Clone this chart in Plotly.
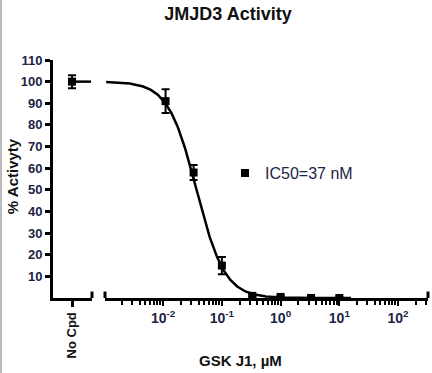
import numpy as np
import plotly.graph_objects as go

# ---- data ----
dose_um = [0.011, 0.033, 0.1, 0.33, 1.0, 3.3, 10.0]
activity = [91, 58, 15, 1, 0.5, 0, 0]
activity_err = [5.5, 3.5, 4, 0.5, 0.5, 0.3, 0.3]
nocpd_label = ["No Cpd"]
nocpd_activity = [100]
nocpd_err = [3]
ic50_um = 0.037
hill = 1.8
top, bottom = 100, 0
y_ticks = [10, 20, 30, 40, 50, 60, 70, 80, 90, 100, 110]
x_tickvals = [0.01, 0.1, 1, 10, 100]
x_ticktext = ["10<sup>-2</sup>", "10<sup>-1</sup>", "10<sup>0</sup>", "10<sup>1</sup>", "10<sup>2</sup>"]
x_minor = [m * 10.0 ** e for e in range(-3, 3) for m in range(2, 10)]

curve_x = np.logspace(-2.97, 1.2, 300)
curve_y = bottom + (top - bottom) / (1 + (curve_x / ic50_um) ** hill)

navy = "#1c2446"
dark = "#111111"
fnt = "Liberation Sans, Arial, sans-serif"

fig = go.Figure()
# No Cpd point with its level line
fig.add_trace(go.Scatter(x=[1, 2], y=[nocpd_activity[0]] * 2, mode="lines",
                         line=dict(color="black", width=2.5), xaxis="x", yaxis="y",
                         showlegend=False, hoverinfo="skip"))
fig.add_trace(go.Scatter(x=[1], y=nocpd_activity, mode="markers",
                         marker=dict(symbol="square", size=8, color="black"),
                         error_y=dict(type="data", array=nocpd_err, color="black", thickness=2, width=4),
                         xaxis="x", yaxis="y", showlegend=False))
# fit curve
fig.add_trace(go.Scatter(x=curve_x, y=curve_y, mode="lines",
                         line=dict(color="black", width=2.5), xaxis="x2", yaxis="y",
                         showlegend=False, hoverinfo="skip"))
# data points
fig.add_trace(go.Scatter(x=dose_um, y=activity, mode="markers", name="IC50=37 nM",
                         marker=dict(symbol="square", size=8, color="black"),
                         error_y=dict(type="data", array=activity_err, color="black", thickness=2, width=4),
                         xaxis="x2", yaxis="y", showlegend=True))

fig.update_layout(
    width=432, height=373,
    margin=dict(l=53, r=4, t=60, b=75, autoexpand=False),
    paper_bgcolor="white", plot_bgcolor="white",
    font=dict(family=fnt, color=navy),
    title=dict(text="<b>JMJD3 Activity</b>", x=228 / 432, xanchor="center", y=1 - 14 / 373,
               yanchor="middle", font=dict(size=18, color=dark)),
    xaxis=dict(domain=[0, 39 / 375], range=[0, 2.05], tickvals=[1], ticktext=nocpd_label,
               tickangle=-90, ticks="outside", ticklen=6, tickwidth=2.5, tickcolor="black",
               showline=True, linecolor="black", linewidth=3, showgrid=False, zeroline=False,
               automargin=False,
               tickfont=dict(size=13, color=dark, family=fnt, weight="bold"), anchor="y"),
    xaxis2=dict(domain=[52 / 375, 1], type="log", range=[-2.99, 2.51], tickvals=x_tickvals,
                ticktext=x_ticktext, ticks="outside", ticklen=5, tickwidth=2, tickcolor="black",
                minor=dict(tickmode="array", tickvals=x_minor, ticks="outside", ticklen=4,
                           tickwidth=1.5, tickcolor="black", showgrid=False),
                showline=True, linecolor="black", linewidth=3, showgrid=False, zeroline=False,
                automargin=False,
                tickfont=dict(size=14, color=navy, family=fnt, weight="bold"), anchor="y"),
    yaxis=dict(range=[0, 110], tickvals=y_ticks, ticks="outside", ticklen=5, tickwidth=2.5,
               tickcolor="black", showline=True, linecolor="black", linewidth=3, showgrid=False,
               zeroline=False, automargin=False,
               tickfont=dict(size=13, color=navy, family=fnt, weight="bold")),
    legend=dict(x=(225 - 53) / 375, y=(297.7 - 173) / 237.7, xanchor="left", yanchor="middle",
                bgcolor="rgba(0,0,0,0)", font=dict(size=16, color=navy, family=fnt)),
    showlegend=True,
)
# axis titles
fig.add_annotation(text="<b>GSK J1, µM</b>", x=(240 - 53) / 375, y=(297.7 - 360) / 237.7,
                   xref="paper", yref="paper", showarrow=False, xanchor="center", yanchor="middle",
                   font=dict(size=15, color=dark, family=fnt))
fig.add_annotation(text="<b>% Activyty</b>", x=(12 - 53) / 375, y=(297.7 - 176) / 237.7,
                   xref="paper", yref="paper", showarrow=False, xanchor="center", yanchor="middle",
                   textangle=-90, font=dict(size=15, color=dark, family=fnt))
# segment end caps (axis break markers)
for xr, xv in [("x domain", 1), ("x2 domain", 0), ("x2 domain", 1)]:
    fig.add_shape(type="line", xref=xr, yref="y", x0=xv, x1=xv, y0=-3, y1=3,
                  line=dict(color="black", width=3))
# y axis line extends slightly below x axis
fig.add_shape(type="line", xref="x domain", yref="y", x0=0, x1=0, y0=0, y1=-2.2,
              line=dict(color="black", width=3))
# light frame line at left edge
fig.add_shape(type="line", xref="paper", yref="paper", x0=-52 / 375, x1=-52 / 375,
              y0=-75 / 237.7, y1=1 + 60 / 237.7, line=dict(color="#bbbbbb", width=2))

fig.write_html("out.html", config={"displayModeBar": False},
               post_script="document.body.style.margin='0';document.body.style.overflow='hidden';")
